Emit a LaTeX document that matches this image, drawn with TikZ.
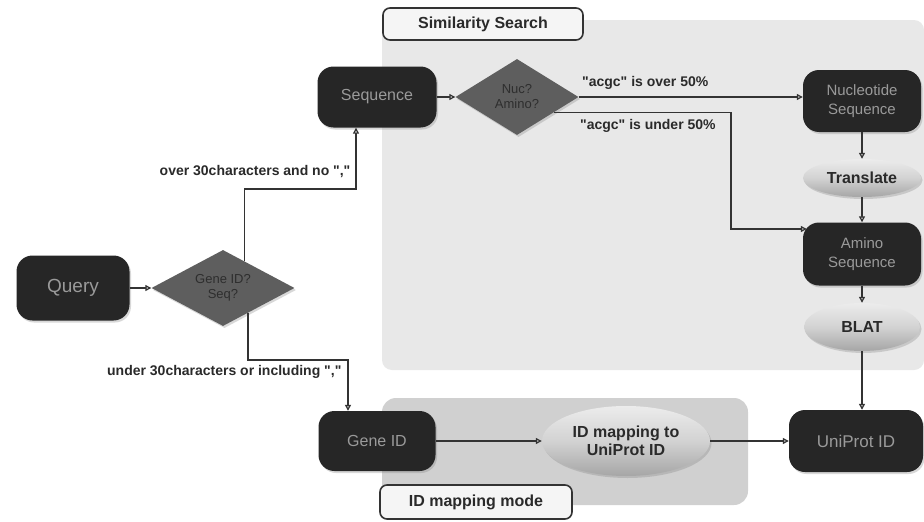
\documentclass[tikz,border=0pt]{standalone}
\usepackage{fontspec}
\setmainfont{Liberation Sans}
\usetikzlibrary{shapes.geometric,arrows.meta,shadows,calc}
\definecolor{boxdark}{HTML}{262626}
\definecolor{boxtext}{HTML}{9A9A9A}
\definecolor{diafill}{HTML}{5E5E5E}
\definecolor{diatext}{HTML}{2E2E2E}
\definecolor{simbg}{HTML}{E8E8E8}
\definecolor{idbg}{HTML}{D0D0D0}
\definecolor{linecol}{HTML}{333333}
\definecolor{labtext}{HTML}{2A2A2A}
\newcommand\fsz[2]{\fontsize{#1}{#2}\selectfont}
\newcommand\qq{\textquotedbl}
\tikzset{
  darkbox/.style={draw=none, fill=boxdark, rounded corners=16pt, text=boxtext, align=center, inner sep=2pt,
    drop shadow={shadow xshift=1.5pt, shadow yshift=-2pt, opacity=0.3}},
  diabox/.style={diamond, fill=diafill, text=diatext, align=center, inner sep=0pt,
    drop shadow={shadow xshift=1.5pt, shadow yshift=-2pt, opacity=0.3}, font=\fsz{13}{15}},
  ellbox/.style={ellipse, top color=white!85!gray, bottom color=gray!70, middle color=gray!35, text=labtext,
    align=center, inner sep=0pt, font=\bfseries\fsz{16}{18},
    drop shadow={shadow xshift=1.5pt, shadow yshift=-2pt, opacity=0.3}},
  tagbox/.style={draw=linecol, line width=1.6pt, fill=white!92!gray, rounded corners=7pt, text=labtext,
    font=\bfseries\fsz{16}{18}, inner sep=2pt},
  lab/.style={text=labtext, font=\bfseries\fsz{14}{16}, inner sep=1pt},
  arr/.style={draw=linecol, line width=1.2pt, -{Triangle[length=6pt,width=6pt,fill=gray!35]}},
}
\begin{document}
\begin{tikzpicture}[x=1pt,y=-1pt]
\useasboundingbox (0,0) rectangle (924,522);
\fill[white] (0,0) rectangle (924,522);
% background regions
\fill[simbg, rounded corners=10pt] (382,20) rectangle (924,370);
\fill[idbg, rounded corners=14pt] (382,398) rectangle (748,505);
% labels of regions
\node[tagbox, minimum width=200pt, minimum height=32pt] (simlab) at (483,24) {Similarity Search};
\node[tagbox, minimum width=192pt, minimum height=34pt] (idlab) at (476,502) {ID mapping mode};
% nodes
\node[darkbox, minimum width=113pt, minimum height=65pt, font=\fsz{19}{22}] (query) at (73,288) {Query};
\node[diabox, minimum width=143pt, minimum height=76pt, aspect=1.9] (gid) at (223,288) {Gene ID?\\Seq?};
\node[darkbox, minimum width=119pt, minimum height=61pt, font=\fsz{16}{18}] (seq) at (377,97) {Sequence};
\node[diabox, minimum width=123pt, minimum height=76pt, aspect=1.6] (nuc) at (517,97) {Nuc?\\Amino?};
\node[darkbox, minimum width=118pt, minimum height=62pt, font=\fsz{15}{19}] (nucseq) at (862,101) {Nucleotide\\Sequence};
\node[ellbox, minimum width=118pt, minimum height=38pt] (trans) at (862,178) {Translate};
\node[darkbox, minimum width=118pt, minimum height=63pt, font=\fsz{15}{19}] (amino) at (862,254) {Amino\\Sequence};
\node[ellbox, minimum width=116pt, minimum height=48pt] (blat) at (862,327) {BLAT};
\node[darkbox, minimum width=134pt, minimum height=62pt, font=\fsz{17}{20}] (uni) at (856,441) {UniProt ID};
\node[darkbox, minimum width=117pt, minimum height=60pt, font=\fsz{16}{18}] (genid) at (377,441) {Gene ID};
\node[ellbox, minimum width=168pt, minimum height=70pt] (idmap) at (626,441) {ID mapping to\\UniProt ID};
% helper coordinates
\coordinate (gtop) at ($(gid.north)!0.3!(gid.east)$);
\coordinate (gbot) at ($(gid.south)!0.35!(gid.east)$);
\coordinate (c1) at (356,189);
\coordinate (c2) at (348,360);
\coordinate (nstart) at ($(nuc.east)!0.4!(nuc.south)$);
\coordinate (c5) at (731,229);
% connectors
\draw[arr] (query.east) -- (gid.west);
\draw[arr] (gtop) |- (c1) node[lab, anchor=south east, xshift=-4pt, yshift=10pt] (olab) {over 30characters and no \qq,\qq} -- (c1 |- seq.south);
\draw[arr] (gbot) |- (c2) node[lab, anchor=north east, xshift=-5pt, yshift=-4pt] (ulab2) {under 30characters or including \qq,\qq} -- (c2 |- genid.north);
\draw[arr] (seq.east) -- (nuc.west);
\draw[arr] (nuc.east) -- (nuc.east -| nucseq.west);
\node[lab, anchor=south west] (overlab) at (581,91) {\qq acgc\qq{} is over 50\%};
\draw[arr] (nstart) -| (c5) -- ($(c5 -| amino.west)+(4,0)$);
\node[lab, anchor=north west] (underlab) at (579,118) {\qq acgc\qq{} is under 50\%};
\draw[arr] (nucseq.south) -- (trans.north);
\draw[arr] (trans.south) -- (amino.north);
\draw[arr] (amino.south) -- (blat.north);
\draw[arr] (blat.south) -- (blat.south |- uni.north);
\draw[arr] (genid.east) -- (idmap.west);
\draw[arr] (idmap.east) -- (uni.west);
\end{tikzpicture}
\end{document}
